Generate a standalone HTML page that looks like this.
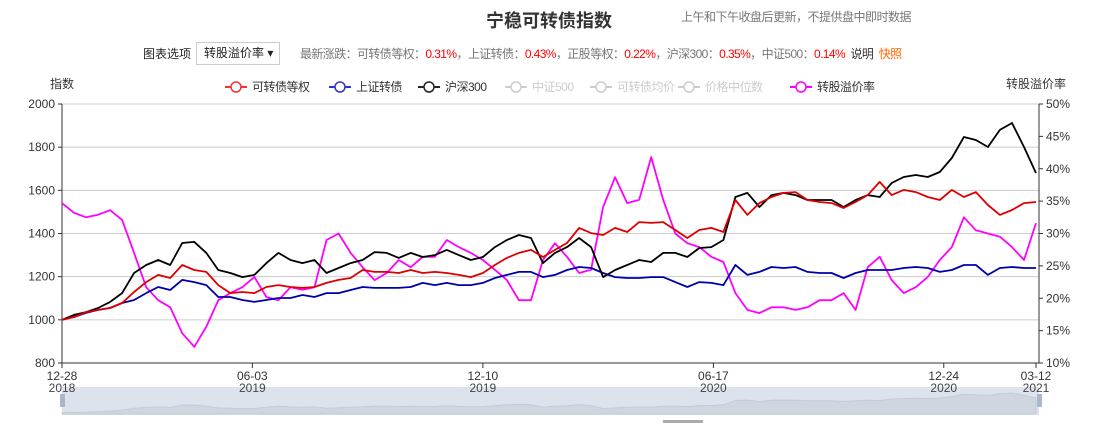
<!DOCTYPE html>
<html><head><meta charset="utf-8">
<style>
body{margin:0;width:1119px;height:423px;overflow:hidden;background:#fff;font-family:"Liberation Sans","Noto Sans CJK SC",sans-serif;position:relative}
.abs{position:absolute;white-space:nowrap}
.title{left:0;width:1098px;text-align:center;top:7px;font-size:18px;font-weight:bold;color:#333}
.sub{left:681px;top:8px;font-size:12px;color:#777;letter-spacing:-0.5px}
.opt{left:143px;top:45px;font-size:12px;color:#222}
.sel{left:196px;top:42px;width:84px;height:23px;border:1px solid #ccc;box-sizing:border-box;font-size:12px;color:#222;line-height:21px;padding-left:7px}
.info{left:300px;top:45px;font-size:12px;color:#777;letter-spacing:-0.6px}
.info .r{color:#f00}
.info .k{color:#333}
.info .o{color:#f60}
</style></head><body>
<div class="abs title">宁稳可转债指数</div>
<div class="abs sub">上午和下午收盘后更新，不提供盘中即时数据</div>
<div class="abs opt">图表选项</div>
<div class="abs sel">转股溢价率 ▾</div>
<div class="abs info">最新涨跌：可转债等权：<span class="r">0.31%</span>，上证转债：<span class="r">0.43%</span>，正股等权：<span class="r">0.22%</span>，沪深300：<span class="r">0.35%</span>，中证500：<span class="r">0.14%</span> &nbsp;<span class="k">说明</span> &nbsp;<span class="o">快照</span></div>
<svg id="chart" width="1119" height="423" style="position:absolute;left:0;top:0"></svg>
<script>
const tickIdx=[0,15.83,35,54.17,73.33,81];
const tickDay=["12-28","06-03","12-10","06-17","12-24","03-12"];
const tickYear=["2018","2019","2019","2020","2020","2021"];
const leftTicks=[800,1000,1200,1400,1600,1800,2000];
const rightTicks=[10,15,20,25,30,35,40,45,50];
const cbEqual=[1000,1013,1036,1046,1055,1078,1129,1175,1208,1194,1254,1231,1222,1161,1124,1129,1124,1152,1161,1152,1148,1152,1171,1185,1194,1231,1222,1222,1217,1231,1217,1222,1217,1208,1198,1217,1254,1287,1310,1324,1291,1324,
1356,1426,1402,1393,1426,1407,1453,1449,1453,1416,1379,1416,1426,1407,1555,1486,1541,1569,1588,1592,1555,1546,1541,1518,1546,1578,1639,1578,1602,1592,1569,1555,1602,1569,1592,1532,1486,1509,1541,1546];
const shCb=[1000,1013,1032,1046,1055,1078,1092,1124,1152,1138,1185,1175,1161,1106,1106,1092,1083,1092,1101,1101,1115,1106,1124,1124,1138,1152,1148,1148,1148,1152,1171,1161,1171,1161,1161,1171,1194,1208,1222,1222,1198,1208,
1231,1245,1240,1217,1198,1194,1194,1198,1198,1175,1152,1175,1171,1161,1254,1208,1222,1245,1240,1245,1222,1217,1217,1194,1217,1231,1231,1231,1240,1245,1240,1222,1231,1254,1254,1208,1240,1245,1240,1240];
const hs300=[1000,1023,1036,1055,1083,1124,1217,1254,1277,1254,1356,1361,1310,1231,1217,1198,1208,1263,1310,1277,1263,1277,1217,1240,1263,1277,1314,1310,1287,1310,1291,1300,1324,1300,1277,1291,1337,1370,1393,1379,1263,1310,
1337,1379,1337,1198,1231,1254,1277,1268,1310,1310,1291,1333,1337,1370,1569,1588,1523,1578,1588,1578,1555,1555,1555,1523,1555,1578,1569,1634,1662,1671,1662,1685,1750,1847,1833,1801,1880,1912,1801,1680];
const premium=[34.7,33.2,32.5,32.9,33.6,32.1,27.0,21.7,19.7,18.6,14.6,12.5,15.6,19.7,20.8,21.7,23.3,20.2,19.7,21.7,21.3,21.7,29.0,30.0,27.0,24.8,22.8,23.9,25.9,24.8,26.4,26.4,29.0,27.9,27.0,25.9,24.4,22.8,19.7,19.7,25.9,28.5,
26.4,23.9,24.4,34.1,38.7,34.7,35.2,41.8,35.2,30.0,28.5,27.9,26.4,25.6,20.8,18.2,17.7,18.6,18.6,18.2,18.6,19.7,19.7,20.8,18.2,24.8,26.4,22.8,20.8,21.7,23.3,25.9,27.9,32.5,30.5,30.0,29.5,27.9,25.9,31.6];

const svg=document.getElementById('chart');const NS='http://www.w3.org/2000/svg';
function mk(t,a,p){const e=document.createElementNS(NS,t);for(const k in a)e.setAttribute(k,a[k]);(p||svg).appendChild(e);return e;}
const X0=62,X1=1036,Y0=104,Y1=363,N=cbEqual.length;
const xs=i=>X0+(X1-X0)*i/(N-1);
const yL=v=>Y1-(v-800)/1200*(Y1-Y0);
const yR=v=>Y1-(v-10)/40*(Y1-Y0);
// data zoom slider (drawn first, labels over it)
const dz=mk('g',{});
mk('rect',{x:62,y:387,width:977,height:28,fill:'#dde3ec'},dz);
const ay=v=>414-(v-950)/1100*24;
let ad='M62,414'+hs300.map((v,i)=>'L'+xs(i).toFixed(1)+','+ay(v).toFixed(1)).join('')+'L1036,414Z';
mk('path',{d:ad,fill:'#cfd6e0',stroke:'#c4ccd8','stroke-width':1},dz);
[60,1037].forEach(x=>{const h=mk('rect',{x:x,y:394,width:5,height:13,fill:'#a9b7cc'},dz);
 });
mk('rect',{x:663,y:420,width:40,height:3,fill:'#aaa'});
// grid + left ticks
leftTicks.forEach(v=>{const y=yL(v);
 const g=mk('line',{x1:X0,x2:1039,y1:y,y2:y,stroke:v==800?'#333':'#ccc','stroke-width':1});
 
 mk('line',{x1:X0-4,x2:X0,y1:y,y2:y,stroke:'#333'});
 const t=mk('text',{x:X0-7,y:y+4,'text-anchor':'end','font-size':12,fill:'#333'});t.textContent=v;
 });
rightTicks.forEach(v=>{const y=yR(v);
 mk('line',{x1:1039,x2:1043,y1:y,y2:y,stroke:'#333'});
 const t=mk('text',{x:1046,y:y+4,'font-size':12,fill:'#333'});t.textContent=v+'%';
 });
mk('line',{x1:X0,x2:X0,y1:Y0,y2:Y1,stroke:'#333'});
mk('line',{x1:1039,x2:1039,y1:Y0,y2:Y1,stroke:'#333'});
tickIdx.forEach((ix,k)=>{const x=xs(ix);
 mk('line',{x1:x,x2:x,y1:Y1,y2:Y1+5,stroke:'#333'});
 const t=mk('text',{x:x,y:380,'text-anchor':'middle','font-size':12,fill:'#333'});t.textContent=tickDay[k];
 
 const t2=mk('text',{x:x,y:392,'text-anchor':'middle','font-size':12,fill:'#444'});t2.textContent=tickYear[k];
 });
let t=mk('text',{x:50,y:88,'font-size':12,fill:'#333'});t.textContent='指数';

t=mk('text',{x:1006,y:88,'font-size':12,fill:'#333'});t.textContent='转股溢价率';

// series
function line(arr,fy,col,name){const d=arr.map((v,i)=>(i?'L':'M')+xs(i).toFixed(1)+','+fy(v).toFixed(1)).join('');
 const p=mk('path',{d:d,fill:'none',stroke:col,'stroke-width':1.8,'stroke-linejoin':'round'});
 }
line(premium,yR,'#f0f','premium-line');
line(shCb,yL,'#00a','sh-cb-line');
line(hs300,yL,'#000','hs300-line');
line(cbEqual,yL,'#d00','cb-equal-line');
// legend
const leg=[['可转债等权','#e33',225],['上证转债','#33c',329],['沪深300','#222',418],['中证500','#ccc',505],['可转债均价','#ccc',590],['价格中位数','#ccc',678],['转股溢价率','#f0f',790]];
leg.forEach(l=>{const g=mk('g',{});
 
 mk('line',{x1:l[2],x2:l[2]+22,y1:87,y2:87,stroke:l[1],'stroke-width':2},g);
 mk('circle',{cx:l[2]+11,cy:87,r:5,fill:'#fff',stroke:l[1],'stroke-width':1.5},g);
 const tx=mk('text',{x:l[2]+27,y:91,'font-size':12,'letter-spacing':'-0.5',fill:l[1]=='#ccc'?'#ccc':'#333'},g);tx.textContent=l[0];});
</script>
</body></html>
